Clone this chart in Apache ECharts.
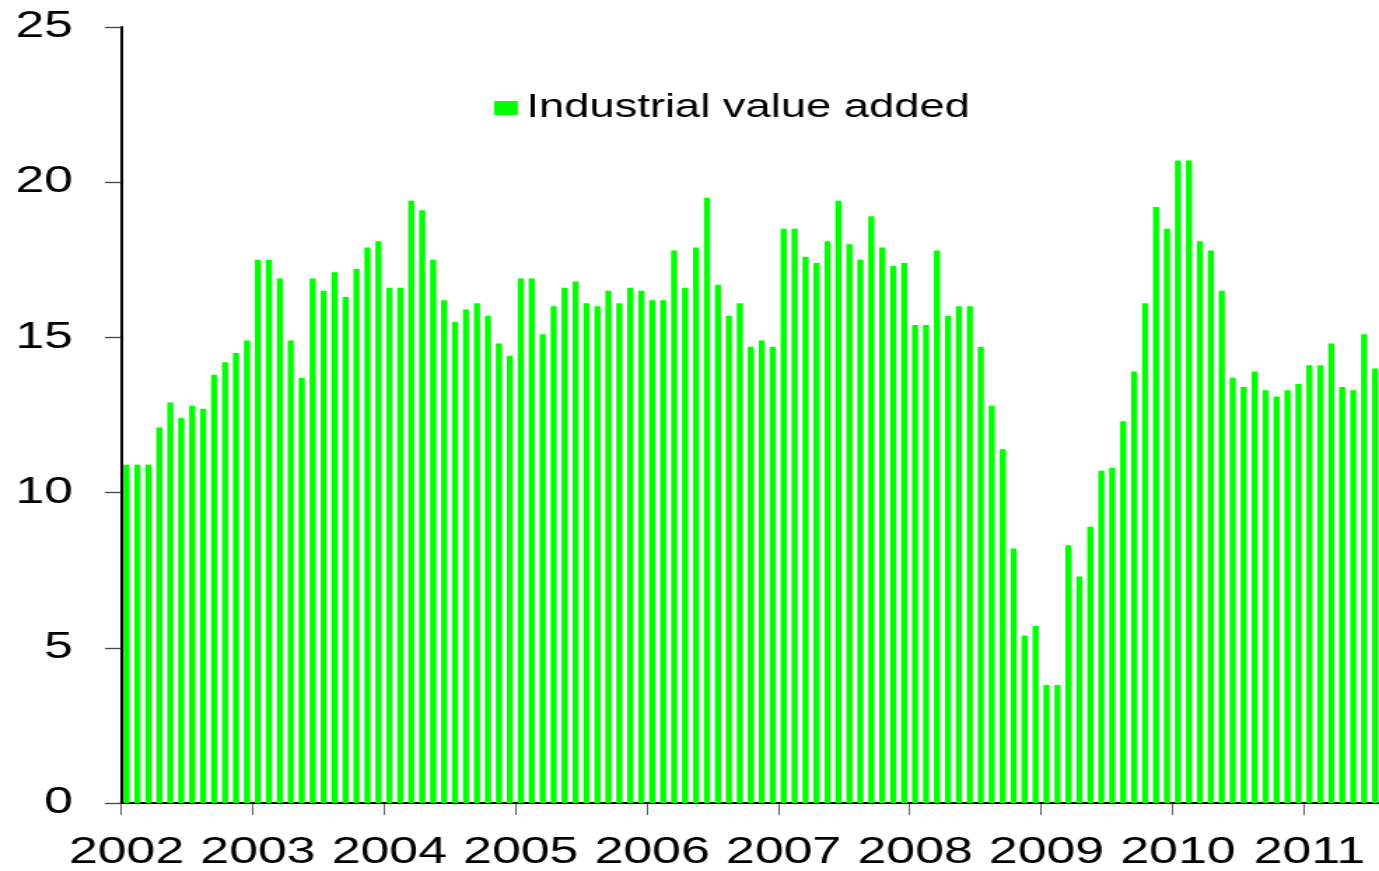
<!DOCTYPE html>
<html>
<head>
<meta charset="utf-8">
<script src="https://cdn.jsdelivr.net/npm/echarts@6/dist/echarts.min.js"></script>
<style>
html,body{margin:0;padding:0;background:#fff;overflow:hidden;width:1379px;height:871px;}
#wrap{width:1379px;height:871px;overflow:hidden;}
#chart{width:988px;height:871px;transform:scaleX(1.4);transform-origin:0 0;}
</style>
</head>
<body>
<div id="wrap"><div id="chart"></div></div>
<script>
// Monthly values by year (Jan..Dec), 2002 – Jul 2011
const years = ['2002','2003','2004','2005','2006','2007','2008','2009','2010','2011'];
const v2002 = [10.9,10.9,10.9,12.1,12.9,12.4,12.8,12.7,13.8,14.2,14.5,14.9];
const v2003 = [17.5,17.5,16.9,14.9,13.7,16.9,16.5,17.1,16.3,17.2,17.9,18.1];
const v2004 = [16.6,16.6,19.4,19.1,17.5,16.2,15.5,15.9,16.1,15.7,14.8,14.4];
const v2005 = [16.9,16.9,15.1,16.0,16.6,16.8,16.1,16.0,16.5,16.1,16.6,16.5];
const v2006 = [16.2,16.2,17.8,16.6,17.9,19.5,16.7,15.7,16.1,14.7,14.9,14.7];
const v2007 = [18.5,18.5,17.6,17.4,18.1,19.4,18.0,17.5,18.9,17.9,17.3,17.4];
const v2008 = [15.4,15.4,17.8,15.7,16.0,16.0,14.7,12.8,11.4,8.2,5.4,5.7];
const v2009 = [3.8,3.8,8.3,7.3,8.9,10.7,10.8,12.3,13.9,16.1,19.2,18.5];
const v2010 = [20.7,20.7,18.1,17.8,16.5,13.7,13.4,13.9,13.3,13.1,13.3,13.5];
const v2011 = [14.1,14.1,14.8,13.4,13.3,15.1,14.0];
const seriesName = 'Industrial value added';
const yTicks = [0,5,10,15,20,25];

const yearly = [v2002,v2003,v2004,v2005,v2006,v2007,v2008,v2009,v2010,v2011];
const categories = [];
const values = [];
yearly.forEach((arr, yi) => {
  arr.forEach((v, mi) => {
    categories.push(years[yi] + '-' + String(mi + 1).padStart(2, '0'));
    values.push(v);
  });
});

const FONT = "'Liberation Sans', Arial, sans-serif";
const chart = echarts.init(document.getElementById('chart'), null, {renderer: 'canvas'});
chart.setOption({
  animation: false,
  backgroundColor: '#ffffff',
  grid: {left: 86.43, top: 27, width: 899.7, bottom: 65, containLabel: false},
  legend: {
    data: [seriesName],
    left: 347.9,
    top: 87,
    itemWidth: 17,
    itemHeight: 14,
    icon: 'rect',
    textStyle: {fontFamily: FONT, fontSize: 32.4, color: '#000', padding: [0,0,0,1]}
  },
  xAxis: {
    type: 'category',
    data: categories,
    boundaryGap: true,
    axisLine: {lineStyle: {color: '#000', width: 2}},
    axisTick: {show: true, interval: 11, length: 12, lineStyle: {color: '#333', width: 0.8}},
    axisLabel: {
      interval: 11,
      margin: 31,
      fontFamily: FONT,
      fontSize: 37,
      color: '#000',
      formatter: (val) => val.slice(0, 4)
    },
    splitLine: {show: false}
  },
  yAxis: {
    type: 'value',
    min: yTicks[0],
    max: yTicks[yTicks.length - 1],
    interval: 5,
    axisLine: {show: true, lineStyle: {color: '#000', width: 2}},
    axisTick: {show: true, length: 11.4, lineStyle: {color: '#444', width: 1.3}},
    axisLabel: {margin: 34.3, fontFamily: FONT, fontSize: 37, color: '#000'},
    splitLine: {show: false}
  },
  series: [{
    name: seriesName,
    type: 'bar',
    data: values,
    barWidth: '56%',
    itemStyle: {color: '#00ff00'}
  }]
});
</script>
</body>
</html>
